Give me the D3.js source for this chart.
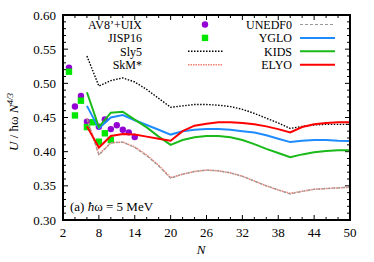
<!DOCTYPE html>
<html>
<head>
<meta charset="utf-8">
<script src="https://cdn.jsdelivr.net/npm/d3@7"></script>
<style>
  body { margin: 0; background: #fff; }
  text { font-family: "Liberation Serif", "DejaVu Serif", serif; font-size: 13px; fill: #000; }
  .leg { font-size: 12px; }
</style>
</head>
<body>
<div id="chart"></div>
<script>
// values
let simN = [6, 8, 10, 12, 14, 16, 18, 20, 22, 24, 26, 28, 30, 32, 34, 36, 38, 40, 42, 44, 46, 48, 50];
let sly5 = [0.540, 0.496, 0.504, 0.508, 0.502, 0.491, 0.478, 0.465, 0.467, 0.469, 0.469, 0.468, 0.466, 0.462, 0.456, 0.449, 0.442, 0.434, 0.437, 0.439, 0.440, 0.440, 0.440];
let skm = [0.449, 0.396, 0.413, 0.414, 0.407, 0.395, 0.380, 0.362, 0.367, 0.371, 0.373, 0.372, 0.369, 0.364, 0.357, 0.350, 0.344, 0.339, 0.342, 0.345, 0.346, 0.347, 0.348];
let unedf0 = [0.448, 0.395, 0.413, 0.414, 0.406, 0.394, 0.379, 0.361, 0.367, 0.371, 0.373, 0.372, 0.369, 0.364, 0.357, 0.350, 0.344, 0.338, 0.342, 0.345, 0.346, 0.347, 0.348];
let yglo = [0.467, 0.434, 0.450, 0.4535, 0.446, 0.439, 0.432, 0.425, 0.430, 0.432, 0.433, 0.433, 0.432, 0.430, 0.428, 0.424, 0.419, 0.414, 0.416, 0.417, 0.417, 0.416, 0.4155];
let kids = [0.487, 0.436, 0.457, 0.4585, 0.447, 0.4355, 0.422, 0.410, 0.417, 0.421, 0.423, 0.423, 0.421, 0.417, 0.411, 0.404, 0.398, 0.392, 0.396, 0.399, 0.401, 0.402, 0.402];
let elyo = [0.437, 0.406, 0.423, 0.426, 0.425, 0.422, 0.419, 0.416, 0.430, 0.438, 0.441, 0.443, 0.443, 0.442, 0.440, 0.437, 0.433, 0.428, 0.436, 0.440, 0.442, 0.443, 0.443];

let av8N = [3, 4, 5, 6, 8, 9, 10, 11, 12, 13, 14];
let av8 = [0.523, 0.466, 0.4815, 0.444, 0.4365, 0.447, 0.433, 0.4386, 0.432, 0.4283, 0.4215];
let jispN = [3, 4, 5, 6, 7, 8, 9, 10];
let jisp = [0.517, 0.453, 0.4746, 0.436, 0.443, 0.4146, 0.4269, 0.417];

let xTicks = [2, 8, 14, 20, 26, 32, 38, 44, 50];
let yTicks = [0.30, 0.35, 0.40, 0.45, 0.50, 0.55, 0.60];

let width = 374;
let height = 262;
let plotL = 63, plotR = 350, plotT = 15, plotB = 220;

let x = d3.scaleLinear().domain([2, 50]).range([plotL, plotR]);
let y = d3.scaleLinear().domain([0.30, 0.60]).range([plotB, plotT]);

let svg = d3.select("#chart").append("svg")
  .attr("width", width)
  .attr("height", height);

// ticks (inside, on all four sides)
let minorX = d3.range(2, 51, 2);
let minorY = d3.range(0.30, 0.6001, 0.01);
let ticks = svg.append("g").attr("stroke", "#000").attr("stroke-width", 1);
minorX.forEach(function(v) {
  let len = xTicks.indexOf(v) >= 0 ? 5 : 3;
  ticks.append("line").attr("x1", x(v)).attr("x2", x(v)).attr("y1", plotB).attr("y2", plotB - len);
  ticks.append("line").attr("x1", x(v)).attr("x2", x(v)).attr("y1", plotT).attr("y2", plotT + len);
});
minorY.forEach(function(v) {
  let major = Math.abs(Math.round(v * 20) - v * 20) < 1e-6;
  let len = major ? 5 : 3;
  ticks.append("line").attr("x1", plotL).attr("x2", plotL + len).attr("y1", y(v)).attr("y2", y(v));
  ticks.append("line").attr("x1", plotR).attr("x2", plotR - len).attr("y1", y(v)).attr("y2", y(v));
});

// tick labels
svg.selectAll(".xl").data(xTicks).enter().append("text")
  .attr("x", function(d) { return x(d); })
  .attr("y", 237)
  .attr("text-anchor", "middle")
  .text(function(d) { return d; });

svg.selectAll(".yl").data(yTicks).enter().append("text")
  .attr("x", 56)
  .attr("y", function(d) { return y(d) + 4.5; })
  .attr("text-anchor", "end")
  .text(function(d) { return d.toFixed(2); });

// axis titles
svg.append("text")
  .attr("x", 201)
  .attr("y", 254)
  .attr("text-anchor", "middle")
  .style("font-style", "italic")
  .text("N");

let yt = svg.append("text")
  .attr("transform", "translate(18,122) rotate(-90)")
  .attr("text-anchor", "middle");
yt.append("tspan").style("font-style", "italic").text("U");
yt.append("tspan").text(" / ħω ");
yt.append("tspan").style("font-style", "italic").text("N");
yt.append("tspan").attr("dy", -5).style("font-size", "9px").style("font-style", "italic").text("4/3");

// data points
svg.selectAll(".av8").data(av8).enter().append("circle")
  .attr("cx", function(d, i) { return x(av8N[i]); })
  .attr("cy", function(d) { return y(d); })
  .attr("r", 3.2)
  .attr("fill", "#9400d3");

svg.selectAll(".jisp").data(jisp).enter().append("rect")
  .attr("x", function(d, i) { return x(jispN[i]) - 3.2; })
  .attr("y", function(d) { return y(d) - 3.2; })
  .attr("width", 6.4)
  .attr("height", 6.4)
  .attr("fill", "#00e600");

// lines
let series = [
  { name: "Sly5", values: sly5, color: "#000", width: 1.4, dash: "1.5,1.5" },
  { name: "SkM*", values: skm, color: "#f08070", width: 1.6, dash: "1.5,1" },
  { name: "UNEDF0", values: unedf0, color: "#999", width: 1.2, dash: "3,2" },
  { name: "YGLO", values: yglo, color: "#1e8cff", width: 2, dash: null },
  { name: "KIDS", values: kids, color: "#1aba1a", width: 2, dash: null },
  { name: "ELYO", values: elyo, color: "#ff0000", width: 2, dash: null }
];

let line = d3.line()
  .x(function(d, i) { return x(simN[i]); })
  .y(function(d) { return y(d); });

series.forEach(function(s) {
  svg.append("path")
    .datum(s.values)
    .attr("fill", "none")
    .attr("stroke", s.color)
    .attr("stroke-width", s.width)
    .attr("stroke-dasharray", s.dash)
    .attr("d", line);
});

// frame
svg.append("rect")
  .attr("x", plotL).attr("y", plotT)
  .attr("width", plotR - plotL).attr("height", plotB - plotT)
  .attr("fill", "none")
  .attr("stroke", "#000")
  .attr("stroke-width", 2);

// legend
let legLeft = [
  { name: "AV8\u2019+UIX", type: "circle", color: "#9400d3" },
  { name: "JISP16", type: "square", color: "#00e600" },
  series[0],
  series[1]
];
let legRight = series.slice(2);
let rowY = [24.5, 37.9, 51.3, 64.7];

legLeft.forEach(function(s, i) {
  svg.append("text").attr("class", "leg").attr("x", 142).attr("y", rowY[i] + 4.2).attr("text-anchor", "end").text(s.name);
  if (s.type === "circle") {
    svg.append("circle").attr("cx", 205).attr("cy", rowY[i]).attr("r", 3.2).attr("fill", s.color);
  } else if (s.type === "square") {
    svg.append("rect").attr("x", 201.8).attr("y", rowY[i] - 3.2).attr("width", 6.4).attr("height", 6.4).attr("fill", s.color);
  } else {
    svg.append("line").attr("x1", 188).attr("x2", 223).attr("y1", rowY[i]).attr("y2", rowY[i])
      .attr("stroke", s.color).attr("stroke-width", s.width).attr("stroke-dasharray", s.dash);
  }
});

legRight.forEach(function(s, i) {
  svg.append("text").attr("class", "leg").attr("x", 292).attr("y", rowY[i] + 4.2).attr("text-anchor", "end").text(s.name);
  svg.append("line").attr("x1", 300).attr("x2", 335).attr("y1", rowY[i]).attr("y2", rowY[i])
    .attr("stroke", s.color).attr("stroke-width", s.width).attr("stroke-dasharray", s.dash);
});

// panel label
let lab = svg.append("text").attr("x", 70).attr("y", 211);
lab.append("tspan").text("(a) ");
lab.append("tspan").style("font-style", "italic").text("ħ");
lab.append("tspan").text("ω = 5 MeV");
</script>
</body>
</html>
